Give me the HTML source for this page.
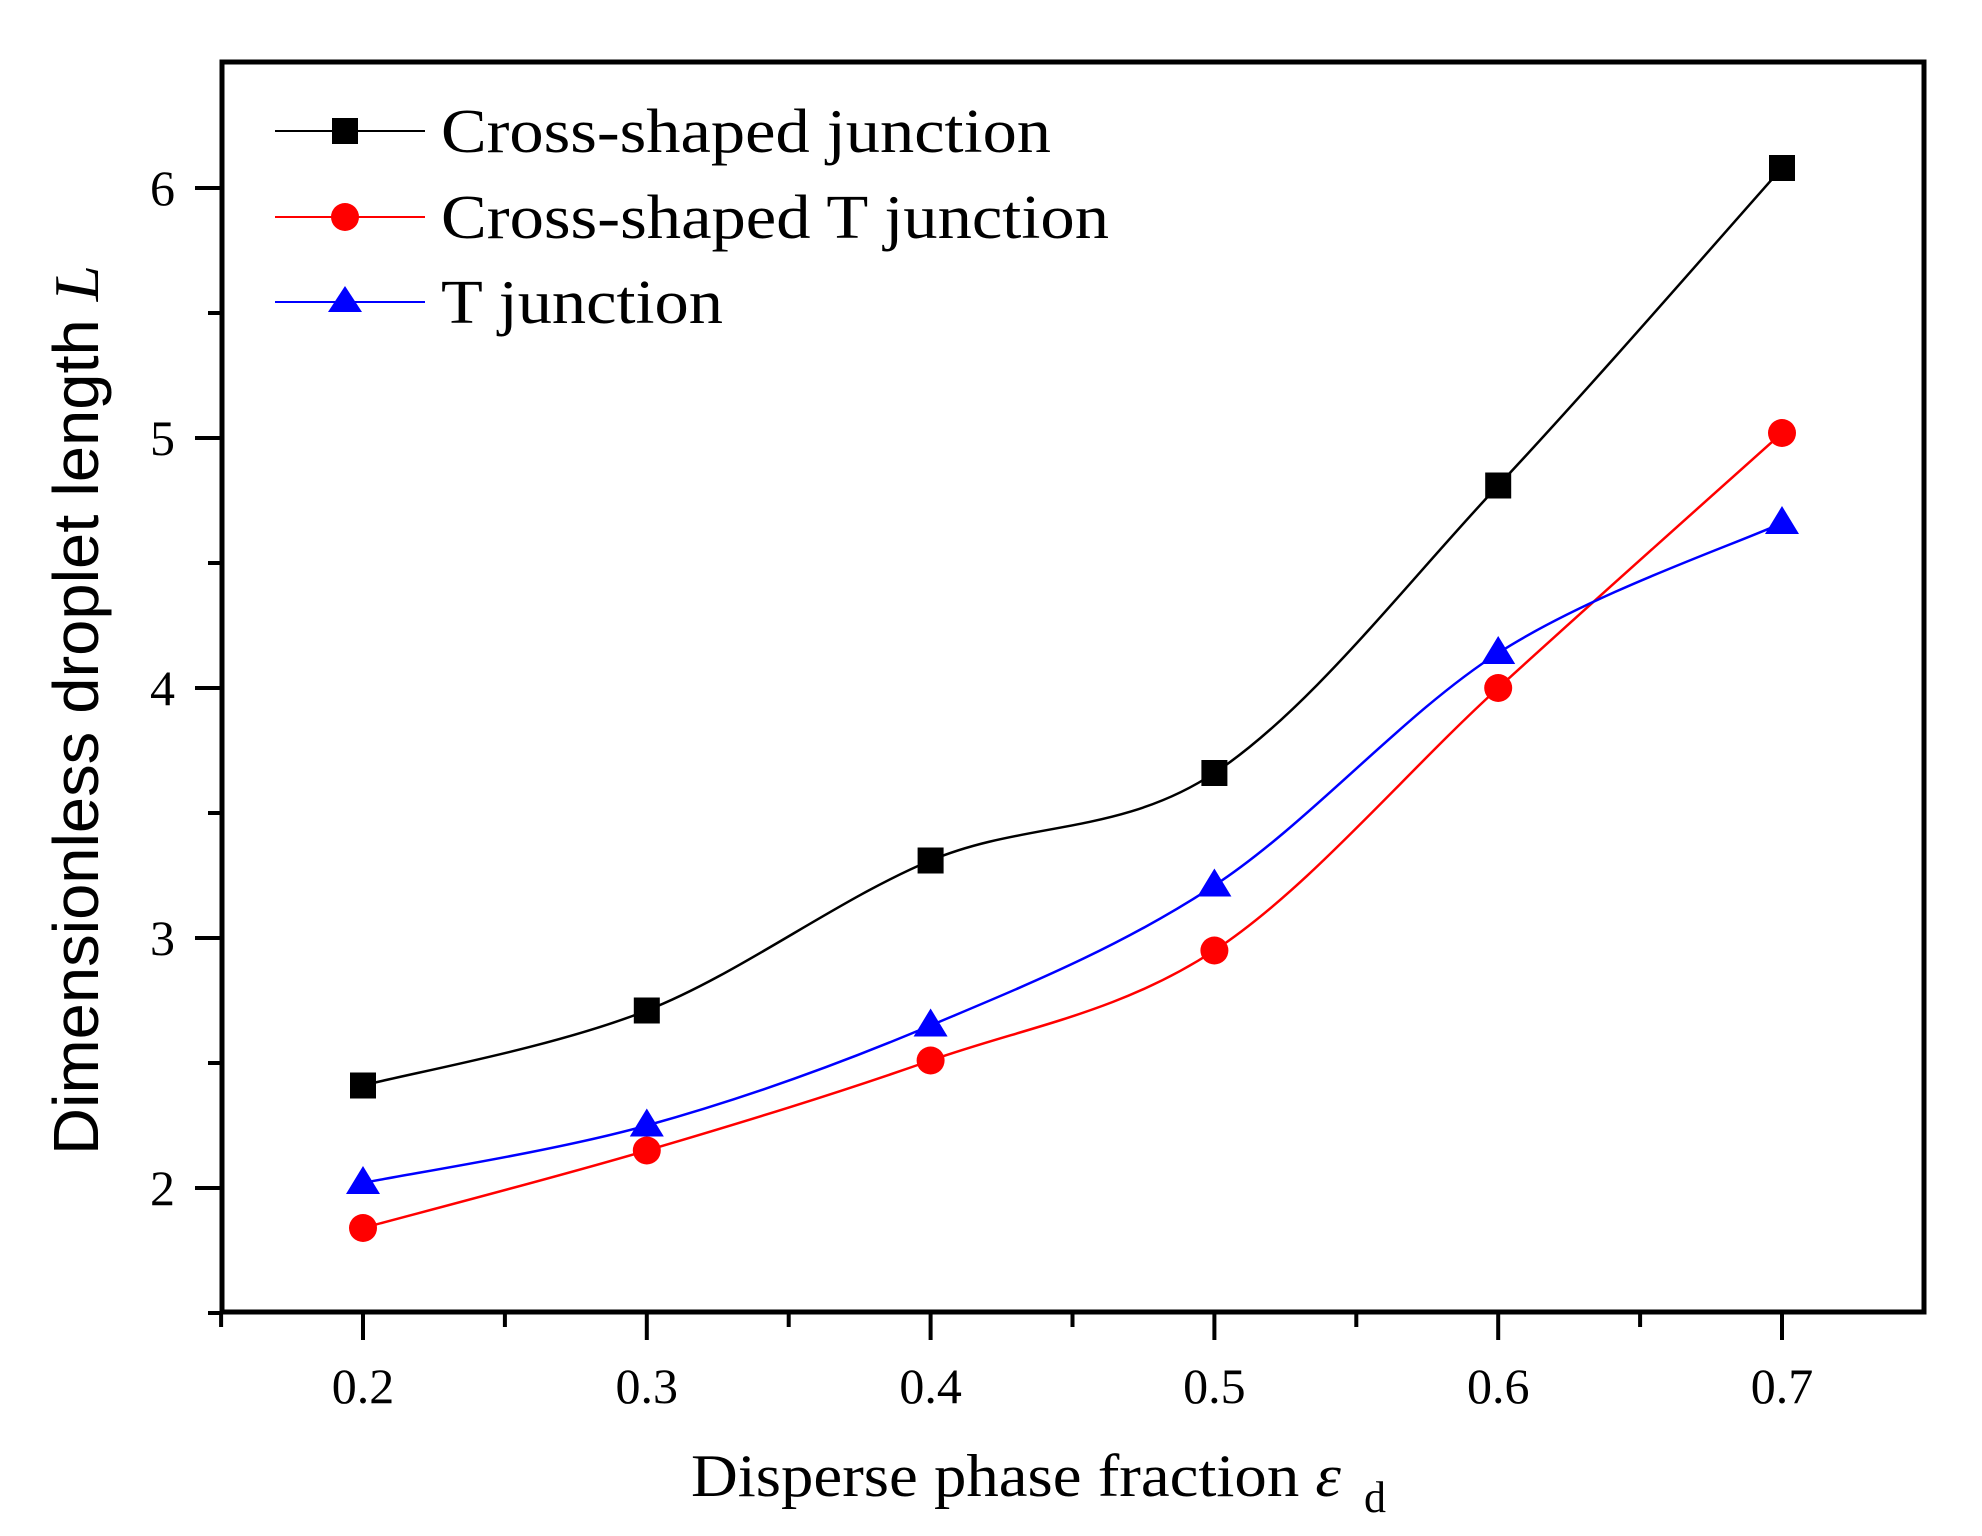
<!DOCTYPE html>
<html><head><meta charset="utf-8"><style>
html,body{margin:0;padding:0;background:#fff;}
svg{display:block;}
text{font-family:"Liberation Serif",serif;fill:#000;}
</style></head><body>
<svg id="s" width="1982" height="1536" viewBox="0 0 1982 1536" xmlns="http://www.w3.org/2000/svg">
<rect x="0" y="0" width="1982" height="1536" fill="#fff"/>
<g id="ticks" stroke="#000" stroke-width="4"></g>
<g id="series"></g>
<rect x="222" y="62" width="1702" height="1250" fill="none" stroke="#000" stroke-width="5"/>
<g id="labels" font-size="50"></g>
<!-- legend -->
<line x1="275" y1="131" x2="425" y2="131" stroke="#000" stroke-width="2"/>
<rect x="332" y="118" width="26" height="26" fill="#000"/>
<text x="441" y="152" font-size="62" textLength="610" lengthAdjust="spacingAndGlyphs">Cross-shaped junction</text>
<line x1="275" y1="217" x2="425" y2="217" stroke="#f00" stroke-width="2"/>
<circle cx="345" cy="217" r="14" fill="#f00"/>
<text x="441" y="238" font-size="62" textLength="668" lengthAdjust="spacingAndGlyphs">Cross-shaped T junction</text>
<line x1="275" y1="302" x2="425" y2="302" stroke="#00f" stroke-width="2"/>
<polygon points="345,286 362,312 328,312" fill="#00f"/>
<text x="441" y="323" font-size="62" textLength="282" lengthAdjust="spacingAndGlyphs">T junction</text>
<!-- axis titles -->
<text x="691" y="1496" font-size="60" textLength="650" lengthAdjust="spacingAndGlyphs">Disperse phase fraction <tspan font-style="italic">ε</tspan></text>
<text x="1364" y="1512" font-size="44">d</text>
<text transform="translate(98,1155) rotate(-90)" font-size="64" style="font-family:'Liberation Sans',sans-serif" textLength="890" lengthAdjust="spacingAndGlyphs">Dimensionless droplet length <tspan style="font-family:'Liberation Serif',serif;font-style:italic">L</tspan></text>
</svg>
<script>
var NS="http://www.w3.org/2000/svg";
function X(v){return 363+(v-0.2)*2838;}
function Y(v){return 188+(6-v)*250;}
function el(t,a,p){var e=document.createElementNS(NS,t);for(var k in a)e.setAttribute(k,a[k]);p.appendChild(e);return e;}
var tk=document.getElementById('ticks'),lb=document.getElementById('labels');
for(var i=0;i<=11;i++){var v=0.15+i*0.05;var x=X(v);var major=(i%2==1);
 el('line',{x1:x,y1:1312,x2:x,y2:1312+(major?28:15)},tk);
 if(major){var t=el('text',{x:x,y:1403,'text-anchor':'middle'},lb);t.textContent=v.toFixed(1);}}
for(var i=0;i<=9;i++){var v=1.5+i*0.5;var y=Y(v);var major=(i%2==1);
 el('line',{x1:222,y1:y,x2:222-(major?27:14),y2:y},tk);
 if(major){var t=el('text',{x:175,y:y+17,'text-anchor':'end'},lb);t.textContent=String(Math.round(v));}}
var xs=[0.2,0.3,0.4,0.5,0.6,0.7];
var S=[{c:'#000',d:[2.41,2.71,3.31,3.66,4.81,6.08],m:'s'},
{c:'#f00',d:[1.84,2.15,2.51,2.95,4.00,5.02],m:'c'},
{c:'#00f',d:[2.02,2.25,2.65,3.21,4.14,4.66],m:'t'}];
var sg=document.getElementById('series');
S.forEach(function(s){
 var P=xs.map(function(x,i){return [X(x),Y(s.d[i])];});
 var d='M'+P[0][0]+','+P[0][1];
 for(var i=0;i<P.length-1;i++){
  var p0=P[Math.max(i-1,0)],p1=P[i],p2=P[i+1],p3=P[Math.min(i+2,P.length-1)];
  var c1=[p1[0]+(p2[0]-p0[0])/6,p1[1]+(p2[1]-p0[1])/6];
  var c2=[p2[0]-(p3[0]-p1[0])/6,p2[1]-(p3[1]-p1[1])/6];
  d+=' C'+c1+' '+c2+' '+p2;}
 el('path',{d:d,fill:'none',stroke:s.c,'stroke-width':2.5},sg);
 P.forEach(function(p){
  if(s.m=='s')el('rect',{x:p[0]-13,y:p[1]-13,width:26,height:26,fill:s.c},sg);
  else if(s.m=='c')el('circle',{cx:p[0],cy:p[1],r:14,fill:s.c},sg);
  else el('polygon',{points:(p[0])+','+(p[1]-17)+' '+(p[0]+17)+','+(p[1]+11)+' '+(p[0]-17)+','+(p[1]+11),fill:s.c},sg);
 });
});
</script>
</body></html>
